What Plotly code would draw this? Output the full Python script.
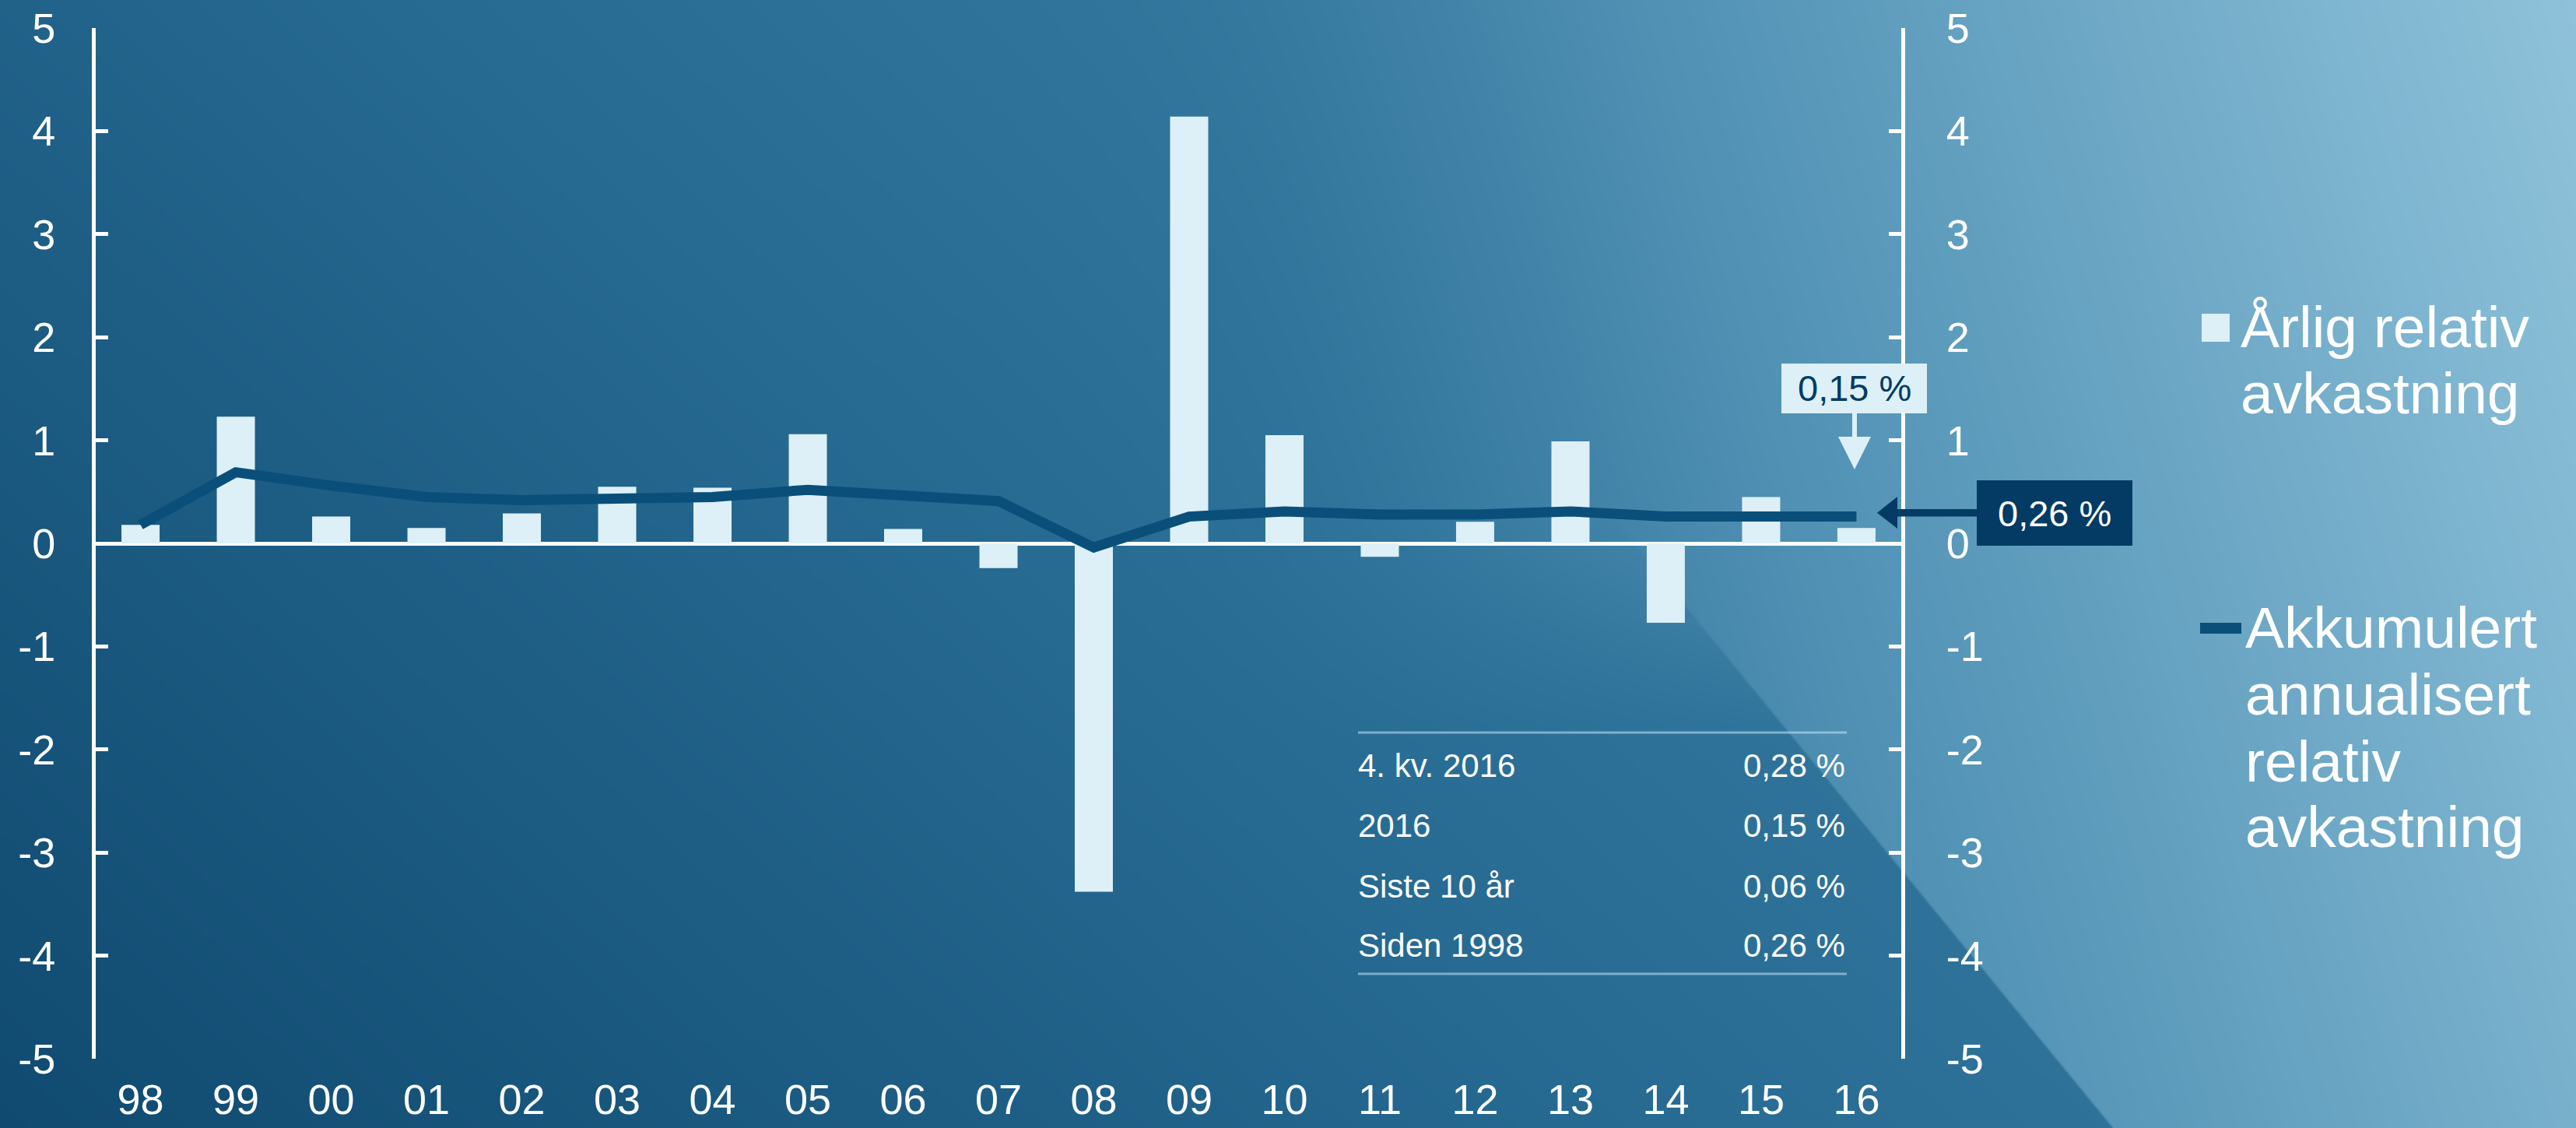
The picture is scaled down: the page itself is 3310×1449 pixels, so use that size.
import base64
import struct
import zlib

import numpy as np
import plotly.graph_objects as go

# ---------------- data ----------------
years = ["98", "99", "00", "01", "02", "03", "04", "05", "06", "07",
         "08", "09", "10", "11", "12", "13", "14", "15", "16"]
annual_relative = [0.18, 1.23, 0.26, 0.15, 0.29, 0.55, 0.54, 1.06, 0.14, -0.24,
                   -3.38, 4.14, 1.05, -0.13, 0.21, 0.99, -0.77, 0.45, 0.15]
accumulated_annualised = [0.18, 0.69, 0.56, 0.45, 0.42, 0.43, 0.45, 0.52, 0.47, 0.41,
                          -0.04, 0.26, 0.31, 0.28, 0.28, 0.31, 0.26, 0.27, 0.26]
y_tick_values = [5, 4, 3, 2, 1, 0, -1, -2, -3, -4, -5]
y_tick_labels = ["5", "4", "3", "2", "1", "0", "-1", "-2", "-3", "-4", "-5"]
legend_bar_lines = ["Årlig relativ", "avkastning"]
legend_line_lines = ["Akkumulert", "annualisert", "relativ", "avkastning"]
table_labels = ["4. kv. 2016", "2016", "Siste 10 år", "Siden 1998"]
table_values = ["0,28 %", "0,15 %", "0,06 %", "0,26 %"]
callout_year = "0,15 %"
callout_total = "0,26 %"

# ---------------- styling ----------------
W, H = 3310, 1449
PL, PR, PT, PB = 123, 2443, 36, 1360  # plot area in pixels
FONT = "Liberation Sans, Arial, sans-serif"
BAR_COLOR = "#ddf0f7"
LINE_COLOR = "#0a4f7a"
NAVY = "#033b64"
WHITE = "#ffffff"


def px(x):
    return (x - PL) / (PR - PL)


def py(y):
    return (PB - y) / (PB - PT)


# ---------------- background gradient image ----------------
def make_background():
    w, h = W // 2, H // 2
    xs = (np.arange(w) + 0.5) * W / w
    ys = (np.arange(h) + 0.5) * H / h
    X, Y = np.meshgrid(xs, ys)
    sL = 0.14 + 9.0e-5 * X - 9.7e-5 * Y
    sR = -0.39 + 4.2e-4 * X - 1.24e-4 * Y
    k = 0.03
    base = k * np.logaddexp(sR / k, sL / k)
    side = X - 1527 - 0.8199 * Y
    left = 1 - np.clip(side / 3.0 + 0.5, 0, 1)
    fade = np.clip((Y - 650) / 300.0, 0, 1)
    f = left * fade
    s = base * (1 - f) + sL * f
    s = np.clip(s, 0, 1)
    stops = [0.0, 0.2, 0.5, 1.0]
    r = np.interp(s, stops, [16, 40, 80, 143])
    g = np.interp(s, stops, [74, 108, 145, 194])
    b = np.interp(s, stops, [112, 148, 180, 218])
    img = np.stack([r, g, b], axis=-1).round().astype(np.int16)
    filt = img.copy()
    filt[:, 1:, :] = (img[:, 1:, :] - img[:, :-1, :]) % 256
    filt = filt.astype(np.uint8).reshape(h, w * 3)
    raw = np.concatenate([np.ones((h, 1), np.uint8), filt], axis=1).tobytes()

    def chunk(tag, data):
        c = struct.pack(">I", len(data)) + tag + data
        return c + struct.pack(">I", zlib.crc32(tag + data) & 0xFFFFFFFF)

    png = b"\x89PNG\r\n\x1a\n"
    png += chunk(b"IHDR", struct.pack(">IIBBBBB", w, h, 8, 2, 0, 0, 0))
    png += chunk(b"IDAT", zlib.compress(raw, 9))
    png += chunk(b"IEND", b"")
    return "data:image/png;base64," + base64.b64encode(png).decode()


fig = go.Figure()
fig.add_trace(go.Bar(x=years, y=annual_relative, width=0.4,
                     marker=dict(color=BAR_COLOR, line=dict(width=0)),
                     hoverinfo="skip", showlegend=False))
fig.add_trace(go.Scatter(x=years, y=accumulated_annualised, mode="lines", yaxis="y2",
                         line=dict(color=LINE_COLOR, width=13),
                         hoverinfo="skip", showlegend=False))

axis_common = dict(range=[-5, 5], tickvals=y_tick_values, ticktext=y_tick_labels,
                   ticks="inside", ticklen=16, tickwidth=5, tickcolor=WHITE,
                   showline=True, linewidth=5, linecolor=WHITE, showgrid=False,
                   tickfont=dict(family=FONT, size=54, color=WHITE),
                   fixedrange=True, automargin=False)

fig.update_layout(
    width=W, height=H,
    margin=dict(l=PL, r=W - PR, t=PT, b=H - PB, pad=0, autoexpand=False),
    paper_bgcolor="#1d5a84", plot_bgcolor="rgba(0,0,0,0)",
    xaxis=dict(type="category", range=[-0.47, 18.47], showline=False, ticks="",
               showgrid=False, zeroline=False, automargin=False,
               tickfont=dict(family=FONT, size=54, color=WHITE),
               ticklabelstandoff=16, fixedrange=True),
    yaxis=dict(**axis_common, ticklabelstandoff=36,
               zeroline=True, zerolinecolor=WHITE, zerolinewidth=5),
    yaxis2=dict(**axis_common, ticklabelstandoff=42,
                overlaying="y", side="right", zeroline=False),
    bargap=0.6,
    images=[dict(source=make_background(), xref="paper", yref="paper",
                 x=px(0), y=py(0), sizex=px(W) - px(0), sizey=py(0) - py(H),
                 xanchor="left", yanchor="top", sizing="stretch", layer="below")],
)

shapes = []
# table rules
for yy in (941, 1251):
    shapes.append(dict(type="line", xref="paper", yref="paper",
                       x0=px(1745), x1=px(2373), y0=py(yy), y1=py(yy),
                       line=dict(color="rgba(200,230,245,0.55)", width=3)))
# callout "0,15 %" (light box with downward arrow)
shapes.append(dict(type="rect", xref="paper", yref="paper", x0=px(2289), x1=px(2476),
                   y0=py(531), y1=py(467), fillcolor=BAR_COLOR, line=dict(width=0)))
shapes.append(dict(type="rect", xref="paper", yref="paper", x0=px(2380), x1=px(2386),
                   y0=py(562), y1=py(530), fillcolor=BAR_COLOR, line=dict(width=0)))
shapes.append(dict(type="path", xref="paper", yref="paper",
                   path=f"M {px(2362)} {py(561)} L {px(2404)} {py(561)} L {px(2383)} {py(603)} Z",
                   fillcolor=BAR_COLOR, line=dict(width=0)))
# callout "0,26 %" (navy box with left arrow)
shapes.append(dict(type="rect", xref="paper", yref="paper", x0=px(2540), x1=px(2740),
                   y0=py(701), y1=py(617), fillcolor=NAVY, line=dict(width=0)))
shapes.append(dict(type="rect", xref="paper", yref="paper", x0=px(2436), x1=px(2541),
                   y0=py(663.5), y1=py(654), fillcolor=NAVY, line=dict(width=0)))
shapes.append(dict(type="path", xref="paper", yref="paper",
                   path=f"M {px(2412)} {py(658.7)} L {px(2438)} {py(638)} L {px(2438)} {py(679)} Z",
                   fillcolor=NAVY, line=dict(width=0)))
# legend symbols
shapes.append(dict(type="rect", xref="paper", yref="paper", x0=px(2829), x1=px(2865),
                   y0=py(439), y1=py(403), fillcolor=BAR_COLOR, line=dict(width=0)))
shapes.append(dict(type="line", xref="paper", yref="paper", x0=px(2827), x1=px(2880),
                   y0=py(807), y1=py(807), line=dict(color=LINE_COLOR, width=14)))
fig.update_layout(shapes=shapes)

ann = []


def text(x, y, s, size, color=WHITE, xanchor="left"):
    ann.append(dict(x=px(x), y=py(y), xref="paper", yref="paper", text=s,
                    showarrow=False, xanchor=xanchor, yanchor="middle",
                    font=dict(family=FONT, size=size, color=color), borderpad=0))


for label, yy in zip(table_labels, (983, 1060, 1138, 1214)):
    text(1744, yy, label, 42)
for val, yy in zip(table_values, (983, 1060, 1138, 1214)):
    text(2372, yy, val, 42, xanchor="right")
text(2382.5, 499, callout_year, 47, color=NAVY, xanchor="center")
text(2640, 659, callout_total, 47, color=WHITE, xanchor="center")
for line, yy in zip(legend_bar_lines, (420, 505)):
    text(2878, yy, line, 75)
for line, yy in zip(legend_line_lines, (806, 892, 978, 1062)):
    text(2884, yy, line, 75)
fig.update_layout(annotations=ann)

fig.write_html(
    "out.html",
    config=dict(displayModeBar=False, staticPlot=True),
    post_script="document.body.style.margin='0';document.body.style.overflow='hidden';",
)
